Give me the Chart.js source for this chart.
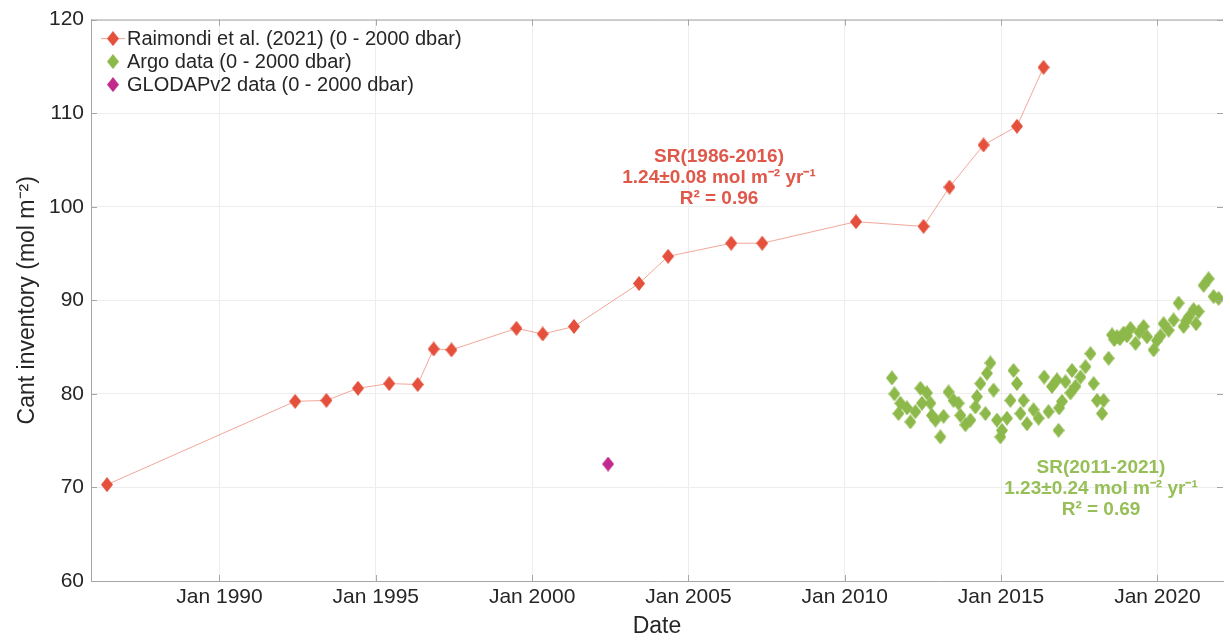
<!DOCTYPE html>
<html lang="en">
<head>
  <meta charset="UTF-8">
  <title>Cant inventory</title>
  <script src="https://cdn.jsdelivr.net/npm/chart.js"></script>
  <style>
    body {
      margin: 0;
      background-color: #fff;
    }
  </style>
</head>
<body>
  <canvas id="cantChart" width="1230" height="640"></canvas>

  <script>
    // Raimondi et al. (2021), 0 - 2000 dbar
    const raimondiYears = [1986.40, 1992.42, 1993.42, 1994.43, 1995.43, 1996.34, 1996.85, 1997.42,
      1999.50, 2000.34, 2001.34, 2003.42, 2004.35, 2006.37, 2007.36, 2010.36, 2012.52, 2013.35,
      2014.44, 2015.51, 2016.36];
    const raimondiValues = [70.3, 79.2, 79.3, 80.6, 81.1, 81.0, 84.8, 84.7,
      87.0, 86.4, 87.2, 91.8, 94.7, 96.1, 96.1, 98.4, 97.9, 102.1,
      106.6, 108.6, 114.9];

    // Argo data, 0 - 2000 dbar
    const argoYears = [2011.51, 2011.59, 2011.72, 2011.78, 2011.99, 2012.10, 2012.26, 2012.42, 2012.47,
      2012.63, 2012.74, 2012.79, 2012.90, 2013.06, 2013.16, 2013.32, 2013.48, 2013.64, 2013.70,
      2013.86, 2014.02, 2014.18, 2014.23, 2014.34, 2014.50, 2014.55, 2014.66, 2014.76, 2014.87,
      2014.98, 2015.03, 2015.19, 2015.30, 2015.40, 2015.51, 2015.62, 2015.72, 2015.83, 2016.04,
      2016.20, 2016.38, 2016.52, 2016.63, 2016.79, 2016.84, 2016.86, 2016.95, 2017.06, 2017.22,
      2017.27, 2017.38, 2017.54, 2017.70, 2017.86, 2017.96, 2018.07, 2018.23, 2018.28, 2018.44,
      2018.55, 2018.62, 2018.71, 2018.80, 2018.92, 2019.03, 2019.14, 2019.30, 2019.42, 2019.56,
      2019.67, 2019.88, 2019.99, 2020.10, 2020.20, 2020.36, 2020.52, 2020.68, 2020.84, 2020.92,
      2021.00, 2021.16, 2021.24, 2021.32, 2021.48, 2021.64, 2021.80, 2021.96];
    const argoValues = [81.7, 80.0, 77.9, 79.0, 78.5, 77.0, 78.1, 80.6, 79.0,
      80.1, 79.0, 77.7, 77.2, 75.4, 77.6, 80.2, 79.3, 79.0, 77.7,
      76.7, 77.2, 78.6, 79.7, 81.1, 77.9, 82.2, 83.3, 80.4, 77.2,
      75.4, 76.1, 77.4, 79.3, 82.5, 81.1, 77.9, 79.3, 76.8, 78.3,
      77.4, 81.8, 78.1, 80.8, 81.5, 76.1, 78.5, 79.2, 81.3, 80.1,
      82.5, 80.8, 81.8, 82.9, 84.3, 81.1, 79.3, 77.9, 79.3, 83.8,
      86.3, 85.8, 86.1, 85.9, 86.5, 86.2, 87.0, 85.4, 86.6, 87.2,
      86.1, 84.7, 85.7, 86.2, 87.5, 86.8, 87.9, 89.7, 87.2, 87.8,
      88.2, 89.0, 87.5, 88.8, 91.6, 92.3, 90.4, 90.2];

    // GLODAPv2 data, 0 - 2000 dbar
    const glodapYears = [2002.43];
    const glodapValues = [72.5];

    const xTickYears = [1990, 1995, 2000, 2005, 2010, 2015, 2020];
    const yTickValues = [60, 70, 80, 90, 100, 110, 120];

    const legendLabels = [
      'Raimondi et al. (2021) (0 - 2000 dbar)',
      'Argo data (0 - 2000 dbar)',
      'GLODAPv2 data (0 - 2000 dbar)'
    ];
    const redNote = ['SR(1986-2016)', '1.24±0.08 mol m⁻² yr⁻¹', 'R² = 0.96'];
    const greenNote = ['SR(2011-2021)', '1.23±0.24 mol m⁻² yr⁻¹', 'R² = 0.69'];

    const RED = '#e4503b';
    const GREEN = '#8db94b';
    const MAGENTA = '#c02a8c';
    const FONT = '"Liberation Sans", Arial, sans-serif';

    function toPoints(xs, ys) {
      return xs.map((x, i) => ({x: x, y: ys[i]}));
    }

    // diamond marker, a bit taller than wide like the original
    function diamond(color, w, h) {
      const c = document.createElement('canvas');
      c.width = w;
      c.height = h;
      const g = c.getContext('2d');
      g.fillStyle = color;
      g.beginPath();
      g.moveTo(w / 2, 0);
      g.lineTo(w, h / 2);
      g.lineTo(w / 2, h);
      g.lineTo(0, h / 2);
      g.closePath();
      g.fill();
      return c;
    }

    const redMark = diamond(RED, 12, 15);
    const greenMark = diamond(GREEN, 12, 15);
    const magentaMark = diamond(MAGENTA, 12, 15);

    // top border + inward tick marks
    const framePlugin = {
      id: 'frame',
      afterDraw(chart) {
        const {ctx, chartArea: a, scales} = chart;
        ctx.save();
        ctx.strokeStyle = '#a6a6a6';
        ctx.lineWidth = 1;
        ctx.beginPath();
        ctx.moveTo(a.left, a.top + 0.5);
        ctx.lineTo(a.right, a.top + 0.5);
        xTickYears.forEach(v => {
          const x = Math.round(scales.x.getPixelForValue(v)) + 0.5;
          ctx.moveTo(x, a.bottom);
          ctx.lineTo(x, a.bottom - 6);
          ctx.moveTo(x, a.top);
          ctx.lineTo(x, a.top + 6);
        });
        yTickValues.forEach(v => {
          const y = Math.round(scales.y.getPixelForValue(v)) + 0.5;
          ctx.moveTo(a.left, y);
          ctx.lineTo(a.left + 6, y);
          ctx.moveTo(a.right, y);
          ctx.lineTo(a.right - 6, y);
        });
        ctx.stroke();
        ctx.restore();
      }
    };

    const legendPlugin = {
      id: 'cornerLegend',
      afterDraw(chart) {
        const {ctx, chartArea: a} = chart;
        const marks = [redMark, greenMark, magentaMark];
        ctx.save();
        ctx.font = '20px ' + FONT;
        ctx.fillStyle = '#262626';
        ctx.textBaseline = 'middle';
        legendLabels.forEach((label, i) => {
          const y = a.top + 19 + i * 23;
          const mx = a.left + 22;
          if (i === 0) {
            ctx.strokeStyle = 'rgba(236,130,110,0.7)';
            ctx.lineWidth = 1;
            ctx.beginPath();
            ctx.moveTo(mx - 12, y);
            ctx.lineTo(mx + 12, y);
            ctx.stroke();
          }
          ctx.drawImage(marks[i], mx - 6, y - 7.5);
          ctx.fillText(label, mx + 14, y + 1);
        });
        ctx.restore();
      }
    };

    const notePlugin = {
      id: 'notes',
      afterDraw(chart) {
        const ctx = chart.ctx;
        ctx.save();
        ctx.font = 'bold 19px ' + FONT;
        ctx.textAlign = 'center';
        ctx.textBaseline = 'middle';
        ctx.fillStyle = '#e0584a';
        redNote.forEach((t, i) => ctx.fillText(t, 719, 157 + i * 21));
        ctx.fillStyle = '#97bf57';
        greenNote.forEach((t, i) => ctx.fillText(t, 1101, 468 + i * 21));
        ctx.restore();
      }
    };

    const ctx = document.getElementById('cantChart').getContext('2d');
    const cantChart = new Chart(ctx, {
      type: 'scatter',
      data: {
        datasets: [
          {
            label: legendLabels[0],
            data: toPoints(raimondiYears, raimondiValues),
            showLine: true,
            borderColor: 'rgba(236,130,110,0.7)',
            borderWidth: 1,
            pointStyle: redMark,
            pointRadius: 6
          },
          {
            label: legendLabels[1],
            data: toPoints(argoYears, argoValues),
            showLine: false,
            pointStyle: greenMark,
            pointRadius: 6
          },
          {
            label: legendLabels[2],
            data: toPoints(glodapYears, glodapValues),
            showLine: false,
            pointStyle: magentaMark,
            pointRadius: 6
          }
        ]
      },
      options: {
        responsive: false,
        animation: false,
        layout: {
          padding: {top: 18, right: 0, bottom: 0, left: 0}
        },
        plugins: {
          legend: {display: false},
          tooltip: {enabled: false}
        },
        scales: {
          x: {
            type: 'linear',
            min: 1985.89,
            max: 2022.1,
            afterBuildTicks: s => { s.ticks = xTickYears.map(v => ({value: v})); },
            afterFit: s => { s.height = 59; },
            ticks: {
              autoSkip: false,
              maxRotation: 0,
              padding: 4,
              color: '#262626',
              font: {size: 21, family: FONT},
              callback: v => 'Jan ' + v
            },
            grid: {color: '#ededed', drawTicks: false},
            border: {color: '#a6a6a6'},
            title: {
              display: true,
              text: 'Date',
              color: '#262626',
              font: {size: 23, family: FONT},
              padding: {top: 0, bottom: 0}
            }
          },
          y: {
            min: 60,
            max: 120,
            afterBuildTicks: s => { s.ticks = yTickValues.map(v => ({value: v})); },
            afterFit: s => { s.width = 91; },
            ticks: {
              padding: 7,
              color: '#262626',
              font: {size: 21, family: FONT}
            },
            grid: {color: '#ededed', drawTicks: false},
            border: {color: '#a6a6a6'},
            title: {
              display: true,
              text: 'Cant inventory (mol m⁻²)',
              color: '#262626',
              font: {size: 23, family: FONT},
              padding: {top: 14, bottom: 0}
            }
          }
        }
      },
      plugins: [framePlugin, legendPlugin, notePlugin]
    });
  </script>
</body>
</html>
